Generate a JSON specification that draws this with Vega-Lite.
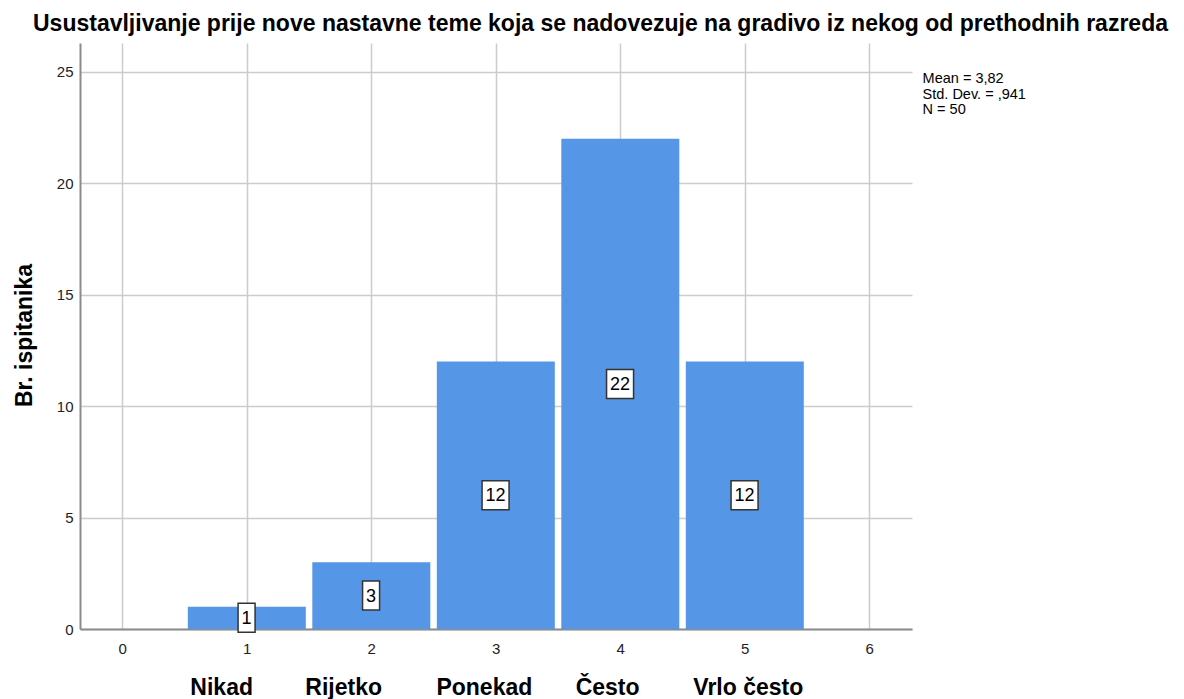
{
  "$schema": "https://vega.github.io/schema/vega-lite/v6.json",
  "width": 832,
  "height": 586,
  "autosize": {"type": "none"},
  "padding": {"left": 80, "top": 43, "right": 272, "bottom": 70},
  "background": "white",
  "title": {
    "text": "Usustavljivanje prije nove nastavne teme koja se nadovezuje na gradivo iz nekog od prethodnih razreda",
    "anchor": "start",
    "frame": "group",
    "dx": -47,
    "dy": 21,
    "offset": 10,
    "baseline": "alphabetic",
    "font": "Liberation Sans",
    "fontSize": 23,
    "fontWeight": "bold",
    "color": "black"
  },
  "config": {
    "view": {"stroke": null},
    "font": "Liberation Sans",
    "axis": {
      "grid": true,
      "gridColor": "#cccccc",
      "gridWidth": 1.5,
      "domainColor": "#8c8c8c",
      "domainWidth": 2,
      "ticks": false,
      "labelFont": "Liberation Sans",
      "labelFontSize": 15,
      "labelColor": "#222222",
      "format": "d"
    }
  },
  "datasets": {
    "bars": [
      {"value": 1, "lo": 0.5, "hi": 1.5, "count": 1},
      {"value": 2, "lo": 1.5, "hi": 2.5, "count": 3},
      {"value": 3, "lo": 2.5, "hi": 3.5, "count": 12},
      {"value": 4, "lo": 3.5, "hi": 4.5, "count": 22},
      {"value": 5, "lo": 4.5, "hi": 5.5, "count": 12}
    ],
    "cats": [
      {"label": "Nikad", "pos": 0.8},
      {"label": "Rijetko", "pos": 1.78},
      {"label": "Ponekad", "pos": 2.91},
      {"label": "Često", "pos": 3.9},
      {"label": "Vrlo često", "pos": 5.03}
    ],
    "stats": [
      {"text": "Mean = 3,82\nStd. Dev. = ,941\nN = 50"}
    ]
  },
  "layer": [
    {
      "data": {"name": "bars"},
      "mark": {"type": "bar", "color": "#5596e6", "xOffset": 3.5, "x2Offset": -3},
      "encoding": {
        "x": {
          "field": "lo",
          "type": "quantitative",
          "scale": {"domain": [-0.338, 6.345], "nice": false, "zero": false},
          "axis": {"values": [0, 1, 2, 3, 4, 5, 6], "title": null, "labelPadding": 12}
        },
        "x2": {"field": "hi"},
        "y": {
          "field": "count",
          "type": "quantitative",
          "scale": {"domain": [0, 26.3], "nice": false},
          "axis": {
            "values": [0, 5, 10, 15, 20, 25],
            "title": "Br. ispitanika",
            "titleFont": "Liberation Sans",
            "titleFontSize": 23,
            "titleFontWeight": "bold",
            "titleColor": "black",
            "titleX": -56,
            "titleY": 292,
            "titleAngle": -90,
            "titleBaseline": "middle",
            "titleAlign": "center",
            "labelPadding": 7
          }
        },
        "y2": {"datum": 0}
      }
    },
    {
      "data": {"name": "bars"},
      "transform": [{"filter": "datum.count < 10"}, {"calculate": "datum.count / 2", "as": "half"}],
      "mark": {"type": "rect", "fill": "white", "stroke": "#333333", "strokeWidth": 1.5, "xOffset": -8.5, "x2Offset": 8.5, "yOffset": -14.5, "y2Offset": 14.5},
      "encoding": {
        "x": {"field": "value", "type": "quantitative"},
        "x2": {"field": "value"},
        "y": {"field": "half", "type": "quantitative"},
        "y2": {"field": "half"}
      }
    },
    {
      "data": {"name": "bars"},
      "transform": [{"filter": "datum.count >= 10"}, {"calculate": "datum.count / 2", "as": "half"}],
      "mark": {"type": "rect", "fill": "white", "stroke": "#333333", "strokeWidth": 1.5, "xOffset": -13.5, "x2Offset": 13.5, "yOffset": -14.5, "y2Offset": 14.5},
      "encoding": {
        "x": {"field": "value", "type": "quantitative"},
        "x2": {"field": "value"},
        "y": {"field": "half", "type": "quantitative"},
        "y2": {"field": "half"}
      }
    },
    {
      "data": {"name": "bars"},
      "transform": [{"calculate": "datum.count / 2", "as": "half"}],
      "mark": {"type": "text", "font": "Liberation Sans", "fontSize": 18, "color": "black", "baseline": "middle", "align": "center", "dy": 1},
      "encoding": {
        "x": {"field": "value", "type": "quantitative"},
        "y": {"field": "half", "type": "quantitative"},
        "text": {"field": "count", "type": "quantitative"}
      }
    },
    {
      "data": {"name": "cats"},
      "mark": {"type": "text", "font": "Liberation Sans", "fontSize": 23, "fontWeight": "bold", "color": "black", "baseline": "alphabetic", "align": "center"},
      "encoding": {
        "x": {"field": "pos", "type": "quantitative"},
        "y": {"datum": -2.97},
        "text": {"field": "label", "type": "nominal"}
      }
    },
    {
      "data": {"name": "stats"},
      "mark": {"type": "text", "font": "Liberation Sans", "fontSize": 14.5, "color": "black", "baseline": "top", "align": "left", "lineBreak": "\n", "lineHeight": 15.5},
      "encoding": {
        "x": {"datum": 6.43},
        "y": {"datum": 24.98},
        "text": {"field": "text", "type": "nominal"}
      }
    }
  ]
}
